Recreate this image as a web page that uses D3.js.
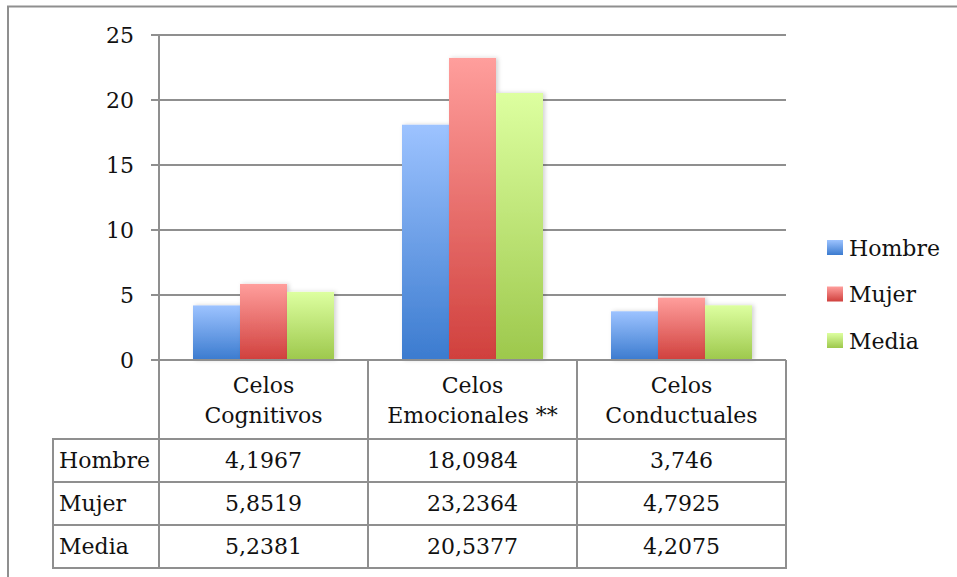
<!DOCTYPE html>
<meta charset="utf-8">
<script src="https://cdn.jsdelivr.net/npm/d3@7"></script>
<style>
  body { margin: 0; background: #fff; }
  text { font-family: "DejaVu Serif", serif; fill: #111; }
</style>
<div id="chart"></div>
<script>
// data
var categories = [["Celos", "Cognitivos"], ["Celos", "Emocionales **"], ["Celos", "Conductuales"]];
var series = ["Hombre", "Mujer", "Media"];
var hombre = [4.1967, 18.0984, 3.746];
var mujer = [5.8519, 23.2364, 4.7925];
var media = [5.2381, 20.5377, 4.2075];
var yTicks = [0, 5, 10, 15, 20, 25];

var values = [hombre, mujer, media];
var colors = [
  {top: "#9dc3ff", bottom: "#3b7bcf"},
  {top: "#ff9e9c", bottom: "#d0403d"},
  {top: "#ddffa0", bottom: "#9dc84c"}
];

var W = 957, H = 577;
var gridCol = "#8f8f8f";

var svg = d3.select("#chart").append("svg")
  .attr("width", W).attr("height", H);

var defs = svg.append("defs");
colors.forEach(function(c, i) {
  var g = defs.append("linearGradient").attr("id", "grad" + i)
    .attr("x1", 0).attr("y1", 0).attr("x2", 0).attr("y2", 1);
  g.append("stop").attr("offset", "0%").attr("stop-color", c.top);
  g.append("stop").attr("offset", "100%").attr("stop-color", c.bottom);
});
var f = defs.append("filter").attr("id", "shadow")
  .attr("x", "-10%").attr("y", "-10%").attr("width", "130%").attr("height", "120%");
f.append("feDropShadow").attr("dx", 2).attr("dy", 0).attr("stdDeviation", 2)
  .attr("flood-color", "#000").attr("flood-opacity", 0.18);

// outer frame (cut off at right/bottom)
svg.append("rect")
  .attr("x", 8).attr("y", 6.5).attr("width", 980).attr("height", 600)
  .attr("fill", "none").attr("stroke", gridCol).attr("stroke-width", 2);

// scales
var x = d3.scaleBand().domain(d3.range(categories.length)).range([159, 786]);
var bw = x.bandwidth();
var x1 = d3.scaleBand().domain(series).range([bw * 34 / 209, bw * 175 / 209]);
var y = d3.scaleLinear().domain([0, 25]).range([360, 35]);

// gridlines + tick labels
svg.selectAll(".grid").data(yTicks).enter().append("line")
  .attr("x1", 151).attr("x2", 786)
  .attr("y1", function(d) { return y(d); }).attr("y2", function(d) { return y(d); })
  .attr("stroke", gridCol).attr("stroke-width", 2);

svg.selectAll(".ytick").data(yTicks).enter().append("text")
  .attr("x", 134).attr("y", function(d) { return y(d); })
  .attr("dy", "0.36em")
  .attr("text-anchor", "end")
  .style("font-size", "22px")
  .text(function(d) { return d; });

// bars
var groups = svg.selectAll(".grp").data(categories).enter().append("g")
  .attr("transform", function(d, i) { return "translate(" + x(i) + ",0)"; });

groups.each(function(c, ci) {
  d3.select(this).selectAll("rect").data(series).enter().append("rect")
    .attr("x", function(s) { return x1(s); })
    .attr("width", x1.bandwidth())
    .attr("y", function(s, si) { return y(values[si][ci]); })
    .attr("height", function(s, si) { return y(0) - y(values[si][ci]); })
    .attr("fill", function(s, si) { return "url(#grad" + si + ")"; })
    .attr("filter", "url(#shadow)");
});

// data table
var rowTop = 439, rowH = 43, tblLeft = 53;
var tblBottom = rowTop + rowH * series.length;

// horizontal lines
svg.append("line").attr("x1", 159).attr("x2", 786).attr("y1", y(0)).attr("y2", y(0))
  .attr("stroke", gridCol).attr("stroke-width", 2);
d3.range(series.length + 1).forEach(function(i) {
  svg.append("line")
    .attr("x1", tblLeft).attr("x2", 786)
    .attr("y1", rowTop + i * rowH).attr("y2", rowTop + i * rowH)
    .attr("stroke", gridCol).attr("stroke-width", 2);
});
// vertical lines
svg.append("line").attr("x1", 159).attr("x2", 159).attr("y1", y(25)).attr("y2", tblBottom + 1)
  .attr("stroke", gridCol).attr("stroke-width", 2);
svg.append("line").attr("x1", tblLeft).attr("x2", tblLeft).attr("y1", rowTop - 1).attr("y2", tblBottom + 1)
  .attr("stroke", gridCol).attr("stroke-width", 2);
d3.range(1, categories.length + 1).forEach(function(i) {
  var xx = x(i - 1) + bw;
  svg.append("line").attr("x1", xx).attr("x2", xx).attr("y1", y(0)).attr("y2", tblBottom + 1)
    .attr("stroke", gridCol).attr("stroke-width", 2);
});

// category labels
categories.forEach(function(c, i) {
  var t = svg.append("text")
    .attr("x", x(i) + bw / 2).attr("y", 393)
    .attr("text-anchor", "middle")
    .style("font-size", "22px");
  c.forEach(function(line, li) {
    t.append("tspan").attr("x", x(i) + bw / 2).attr("dy", li === 0 ? 0 : 30).text(line);
  });
});

// row labels and values
series.forEach(function(s, si) {
  var cy = rowTop + si * rowH + rowH / 2;
  svg.append("text").attr("x", 59).attr("y", cy).attr("dy", "0.35em")
    .style("font-size", "22px").text(s);
  values[si].forEach(function(v, ci) {
    svg.append("text").attr("x", x(ci) + bw / 2).attr("y", cy).attr("dy", "0.35em")
      .attr("text-anchor", "middle")
      .style("font-size", "22px")
      .text(String(v).replace(".", ","));
  });
});

// legend
var leg = svg.selectAll(".leg").data(series).enter().append("g")
  .attr("transform", function(d, i) { return "translate(827," + (240 + i * 46.5) + ")"; });
leg.append("rect").attr("width", 16).attr("height", 15)
  .attr("fill", function(d, i) { return "url(#grad" + i + ")"; });
leg.append("text").attr("x", 22).attr("y", 8).attr("dy", "0.36em")
  .style("font-size", "22px").text(function(d) { return d; });
</script>
